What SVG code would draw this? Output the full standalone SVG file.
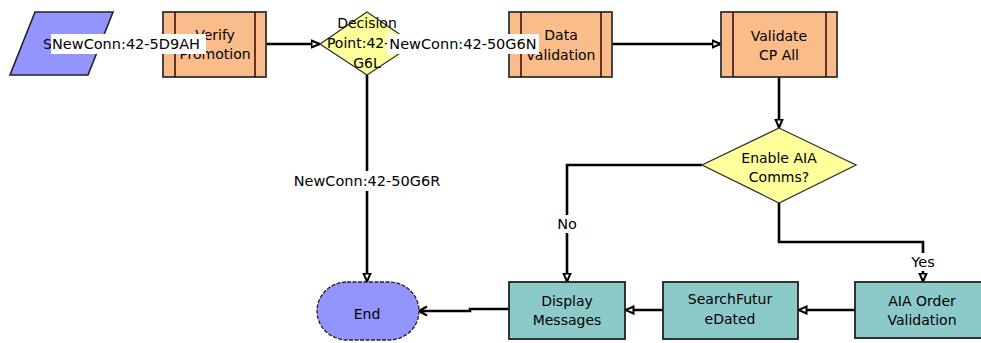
<svg xmlns="http://www.w3.org/2000/svg" width="981" height="343" viewBox="0 0 981 343">
<defs>
<marker id="arr" markerUnits="userSpaceOnUse" markerWidth="10" markerHeight="10" viewBox="0 0 10 10" refX="9.5" refY="5" orient="auto">
<path d="M1,1.5 L9,5 L1,8.5 Z" fill="#ffffff" stroke="#000" stroke-width="2"/>
</marker>
<marker id="chev" markerUnits="userSpaceOnUse" markerWidth="12" markerHeight="12" viewBox="0 0 12 12" refX="11" refY="6" orient="auto">
<path d="M3,1.5 L11,6 L3,10.5" fill="none" stroke="#000" stroke-width="2.4"/>
</marker>
</defs>
<style>
text{font-family:"DejaVu Sans","Noto Sans",sans-serif;font-size:14px;fill:#000;text-anchor:middle}
.lbl{font-size:14.5px}
.proc{fill:#fbbc8c;stroke:#333;stroke-width:1.8}
.teal{fill:#8ccaca;stroke:#222;stroke-width:1.8}
.dia{fill:#ffff9c;stroke:#333;stroke-width:1.3}
.blue{fill:#9494ff;stroke:#222}
.inner{stroke:#300;stroke-width:1.5}
.conn{fill:none;stroke:#000;stroke-width:2.6}
.bg{fill:#fff}
</style>
<g id="connectors">
<path class="conn" d="M100,44 L163,44" marker-end="url(#arr)"/>
<path class="conn" d="M266,44 L320,44" marker-end="url(#arr)"/>
<path class="conn" d="M414,44 L509,44" marker-end="url(#arr)"/>
<path class="conn" d="M612,44 L721,44" marker-end="url(#arr)"/>
<path class="conn" d="M779,77 L779,128" marker-end="url(#arr)"/>
<path class="conn" d="M367,75 L367,282" marker-end="url(#arr)"/>
<path class="conn" d="M702,165 L567,165 L567,282" marker-end="url(#arr)"/>
<path class="conn" d="M779,203 L779,242 L923,242 L923,282" marker-end="url(#arr)"/>
<path class="conn" d="M855,310 L798,310" marker-end="url(#arr)"/>
<path class="conn" d="M663,310 L625,310" marker-end="url(#arr)"/>
<path class="conn" d="M509,309 L470,309 L470,311 L419,311" marker-end="url(#chev)"/>
</g>
<g id="start">
<polygon class="blue" points="35,12 113,12 88,75 10,75" stroke-width="1.6"/>
<text x="43" y="49" style="text-anchor:start">Start</text>
</g>
<g id="verify">
<rect class="proc" x="163" y="12" width="103" height="65"/>
<line class="inner" x1="175" y1="12" x2="175" y2="77"/>
<line class="inner" x1="255" y1="12" x2="255" y2="77"/>
<text x="215" y="40">Verify</text>
<text x="215" y="59">Promotion</text>
</g>
<g id="decision1">
<polygon class="dia" points="367,12 414,44 367,75 320,44"/>
<text x="367" y="28">Decision</text>
<text x="367" y="48">Point:42-50</text>
<text x="367" y="68">G6L</text>
</g>
<g id="datavalidation">
<rect class="proc" x="509" y="12" width="103" height="65"/>
<line class="inner" x1="521" y1="12" x2="521" y2="77"/>
<line class="inner" x1="601" y1="12" x2="601" y2="77"/>
<text x="561" y="40">Data</text>
<text x="561" y="60">validation</text>
</g>
<g id="validatecp">
<rect class="proc" x="721" y="12" width="116" height="65"/>
<line class="inner" x1="733" y1="12" x2="733" y2="77"/>
<line class="inner" x1="826" y1="12" x2="826" y2="77"/>
<text x="779" y="41">Validate</text>
<text x="779" y="60">CP All</text>
</g>
<g id="enableaia">
<polygon class="dia" points="779,128 856,165 779,203 702,165"/>
<text x="779" y="163">Enable AIA</text>
<text x="779" y="182">Comms?</text>
</g>
<g id="end">
<rect class="blue" x="317" y="282" width="102" height="58" rx="30" ry="29" stroke-width="1.3" stroke-dasharray="4 1.5"/>
<text x="367" y="319">End</text>
</g>
<g id="display">
<rect class="teal" x="509" y="282" width="116" height="57"/>
<text x="567" y="306">Display</text>
<text x="567" y="325">Messages</text>
</g>
<g id="searchfuture">
<rect class="teal" x="663" y="282" width="135" height="57"/>
<text x="730" y="304">SearchFutur</text>
<text x="730" y="324">eDated</text>
</g>
<g id="aiaorder">
<rect class="teal" x="855" y="282" width="134" height="56"/>
<text x="922" y="306">AIA Order</text>
<text x="922" y="325">Validation</text>
</g>
<g id="labels">
<rect class="bg" x="51" y="34" width="155" height="20"/>
<text class="lbl" x="52" y="49" style="text-anchor:start">NewConn:42-5D9AH</text>
<rect class="bg" x="387" y="34" width="152" height="20"/>
<text class="lbl" x="463" y="49">NewConn:42-50G6N</text>
<rect class="bg" x="294" y="171" width="147" height="20"/>
<text class="lbl" x="367" y="186">NewConn:42-50G6R</text>
<rect class="bg" x="555" y="215" width="24" height="18"/>
<text class="lbl" x="567" y="229">No</text>
<rect class="bg" x="908" y="253" width="30" height="18"/>
<text class="lbl" x="923" y="267">Yes</text>
</g>
</svg>
